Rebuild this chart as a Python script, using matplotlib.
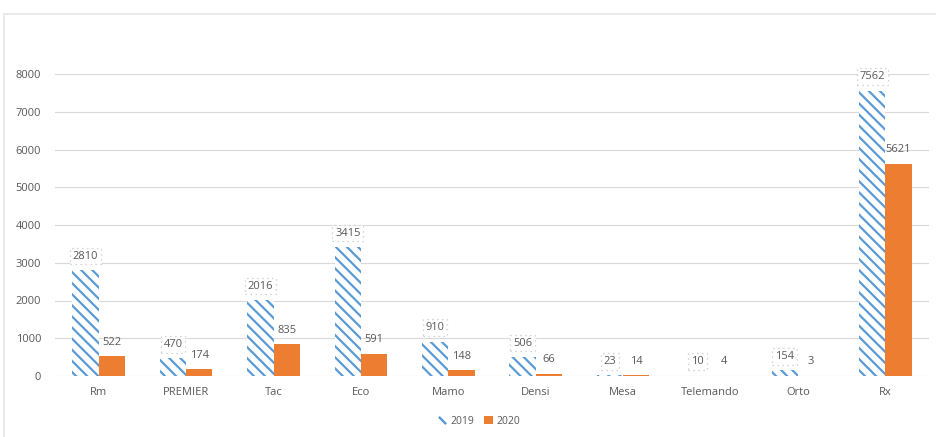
import matplotlib.pyplot as plt
import numpy as np
from matplotlib.patches import Rectangle, Patch
from matplotlib.lines import Line2D

categories = ["Rm", "PREMIER", "Tac", "Eco", "Mamo", "Densi", "Mesa", "Telemando", "Orto", "Rx"]
values_2019 = [2810, 470, 2016, 3415, 910, 506, 23, 10, 154, 7562]
values_2020 = [522, 174, 835, 591, 148, 66, 14, 4, 3, 5621]
series_names = ["2019", "2020"]
y_ticks = [0, 1000, 2000, 3000, 4000, 5000, 6000, 7000, 8000]

blue = "#5B9BD5"
orange = "#ED7D31"
text_gray = "#595959"
grid_gray = "#D9D9D9"

plt.rcParams["font.family"] = ["Open Sans", "DejaVu Sans"]
plt.rcParams["hatch.linewidth"] = 1.6

fig = plt.figure(figsize=(9.36, 4.37), dpi=100)
ax = fig.add_axes([55 / 936, 1 - 376 / 437, (929 - 55) / 936, (376 - 74) / 437])

# chart frame
fig.patches.append(Rectangle((4 / 936, -0.05), 1.0, 1 - 14 / 437 + 0.05,
                             transform=fig.transFigure, fill=False,
                             edgecolor="#E6E6E6", linewidth=1.2))

x = np.arange(len(categories))
w = 0.3
ax.bar(x - w / 2, values_2019, w, color="white", edgecolor=blue,
       hatch="\\\\\\", linewidth=0, zorder=3)
ax.bar(x + w / 2, values_2020, w, color=orange, linewidth=0, zorder=3)

for xi, v in zip(x - w / 2, values_2019):
    ax.annotate(str(v), (xi, v), xytext=(0, 10), textcoords="offset points",
                ha="center", va="center", fontsize=8, color=text_gray,
                bbox=dict(boxstyle="square,pad=0.25", fc="white",
                          ec="#C8C8C8", ls=(0, (1, 3)), lw=0.9),
                zorder=5, annotation_clip=False)
for xi, v in zip(x + w / 2, values_2020):
    ax.annotate(str(v), (xi, v), xytext=(0, 10), textcoords="offset points",
                ha="center", va="center", fontsize=8, color=text_gray,
                zorder=5, annotation_clip=False)

ax.set_xlim(-0.5, len(categories) - 0.5)
ax.set_ylim(0, 8000)
ax.set_yticks(y_ticks)
ax.set_xticks(x)
ax.set_xticklabels(categories)
ax.tick_params(axis="both", length=0, labelsize=8, labelcolor=text_gray)
ax.tick_params(axis="y", pad=10)
ax.tick_params(axis="x", pad=8)
ax.grid(axis="y", color=grid_gray, linewidth=0.8, zorder=0)
for s in ax.spines.values():
    s.set_visible(False)
ax.set_axisbelow(True)

handles = [Line2D([], [], ls="none", marker=(2, 2, 45), markersize=7,
                  markeredgewidth=1.5, color=blue),
           Patch(facecolor=orange, edgecolor="none")]
leg = fig.legend(handles, series_names, loc="center", bbox_to_anchor=(479 / 936, 1 - 421 / 437),
                 ncol=2, frameon=False, fontsize=7.5, handlelength=0.8, handleheight=0.8,
                 handletextpad=0.4, columnspacing=1.0)
for t in leg.get_texts():
    t.set_color(text_gray)

fig.savefig("out.png", dpi=100)
